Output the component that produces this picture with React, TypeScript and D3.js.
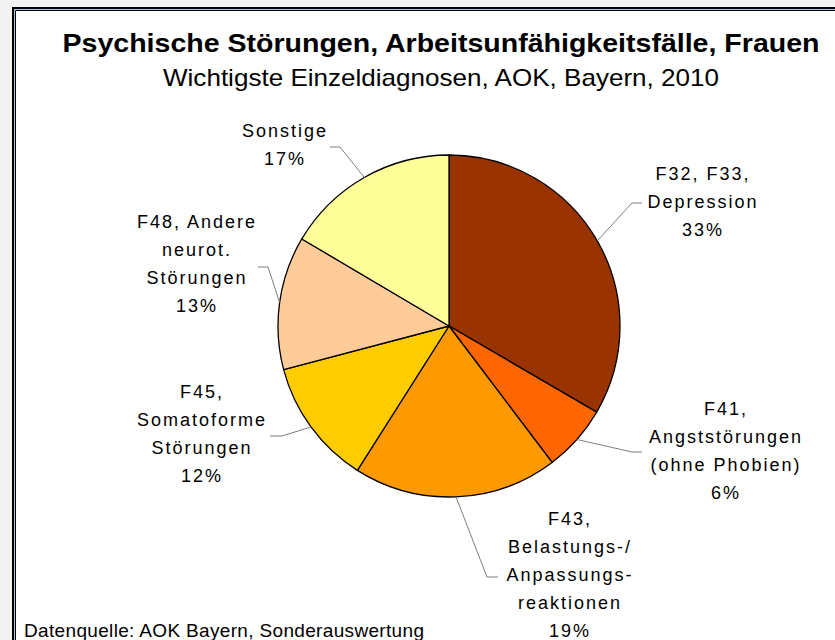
import { useEffect, useRef } from "react";
import * as d3 from "d3";

// slices clockwise from 12 o'clock
const categories = [
  ["F32, F33,", "Depression"],
  ["F41,", "Angststörungen", "(ohne Phobien)"],
  ["F43,", "Belastungs-/", "Anpassungs-", "reaktionen"],
  ["F45,", "Somatoforme", "Störungen"],
  ["F48, Andere", "neurot.", "Störungen"],
  ["Sonstige"]
];
const values = [33.4, 6.3, 19.3, 11.9, 12.6, 16.5];
const colors = ["#993300", "#ff6600", "#ff9900", "#ffcc00", "#ffcc99", "#ffff99"];

// label placement: centre x, first baseline, elbow of leader, end of leader
const labelLayout = [
  { x: 702, y: 180, elbow: [632, 203], tail: 642 },
  { x: 725, y: 415, elbow: [632, 452], tail: 642 },
  { x: 569, y: 525, elbow: [487, 577], tail: 498 },
  { x: 201, y: 398, elbow: [282, 436], tail: 270 },
  { x: 196, y: 228, elbow: [268, 267], tail: 258 },
  { x: 284, y: 137, elbow: [340, 147], tail: 330 }
];

const title = "Psychische Störungen, Arbeitsunfähigkeitsfälle, Frauen";
const subtitle = "Wichtigste Einzeldiagnosen, AOK, Bayern, 2010";
const source = "Datenquelle: AOK Bayern, Sonderauswertung";

export default function App() {
  const svgRef = useRef<SVGSVGElement>(null);

  useEffect(() => {
    const svg = d3.select(svgRef.current);
    svg.selectAll("*").remove();
    const width = 835;
    const height = 640;
    const font = "'Liberation Sans', Arial, sans-serif";

    svg.append("rect").attr("width", width).attr("height", height).attr("fill", "#f2f2f2");
    svg.append("rect").attr("x", 12).attr("y", 7).attr("width", width).attr("height", height).attr("fill", "#fff");
    // double frame
    const frame = svg.append("g").attr("fill", "none");
    frame.append("path").attr("d", `M13,${height}V8H${width}`).attr("stroke", "#000").attr("stroke-width", 2);
    frame.append("path").attr("d", `M14.5,${height}V9.5H${width}`).attr("stroke", "#9cc7e6").attr("stroke-width", 1);
    frame.append("path").attr("d", `M15.5,${height}V10.5H${width}`).attr("stroke", "#000").attr("stroke-width", 1);

    svg
      .append("text")
      .attr("x", 441)
      .attr("y", 52)
      .attr("text-anchor", "middle")
      .attr("font-family", font)
      .attr("font-weight", "bold")
      .attr("font-size", 26)
      .attr("textLength", 757)
      .attr("lengthAdjust", "spacingAndGlyphs")
      .text(title);

    svg
      .append("text")
      .attr("x", 441)
      .attr("y", 86)
      .attr("text-anchor", "middle")
      .attr("font-family", font)
      .attr("font-size", 24)
      .attr("textLength", 556)
      .attr("lengthAdjust", "spacingAndGlyphs")
      .text(subtitle);

    svg
      .append("text")
      .attr("x", 24)
      .attr("y", 637)
      .attr("font-family", font)
      .attr("font-size", 19)
      .attr("textLength", 400)
      .attr("lengthAdjust", "spacing")
      .text(source);

    const cx = 449;
    const cy = 326;
    const radius = 171;
    const pie = d3.pie<number>().sort(null).value((d) => d);
    const arcs = pie(values);
    const arc = d3.arc<d3.PieArcDatum<number>>().innerRadius(0).outerRadius(radius);

    const g = svg.append("g").attr("transform", `translate(${cx},${cy})`);
    g.selectAll("path")
      .data(arcs)
      .join("path")
      .attr("d", arc)
      .attr("fill", (d, i) => colors[i])
      .attr("stroke", "#000")
      .attr("stroke-width", 1.3)
      .attr("stroke-linejoin", "round");

    const fmt = d3.format(".0f");
    const leaders = svg.append("g").attr("fill", "none").attr("stroke", "#7f7f7f").attr("stroke-width", 1);
    const labels = svg
      .append("g")
      .attr("font-family", font)
      .attr("font-size", 18)
      .attr("letter-spacing", 2)
      .attr("text-anchor", "middle")
      .attr("fill", "#000");

    arcs.forEach((a, i) => {
      const lay = labelLayout[i];
      const mid = (a.startAngle + a.endAngle) / 2;
      const px = cx + radius * Math.sin(mid);
      const py = cy - radius * Math.cos(mid);
      leaders
        .append("path")
        .attr("d", `M${px},${py}L${lay.elbow[0]},${lay.elbow[1]}H${lay.tail}`);

      const lines = [...categories[i], fmt(a.data) + "%"];
      const t = labels.append("text").attr("x", lay.x + 1).attr("y", lay.y);
      lines.forEach((line, j) => {
        t.append("tspan")
          .attr("x", lay.x + 1)
          .attr("dy", j === 0 ? 0 : 28)
          .text(line);
      });
    });
  }, []);

  return (
    <svg
      ref={svgRef}
      width={835}
      height={640}
      style={{ position: "absolute", left: 0, top: 0, display: "block" }}
    />
  );
}
